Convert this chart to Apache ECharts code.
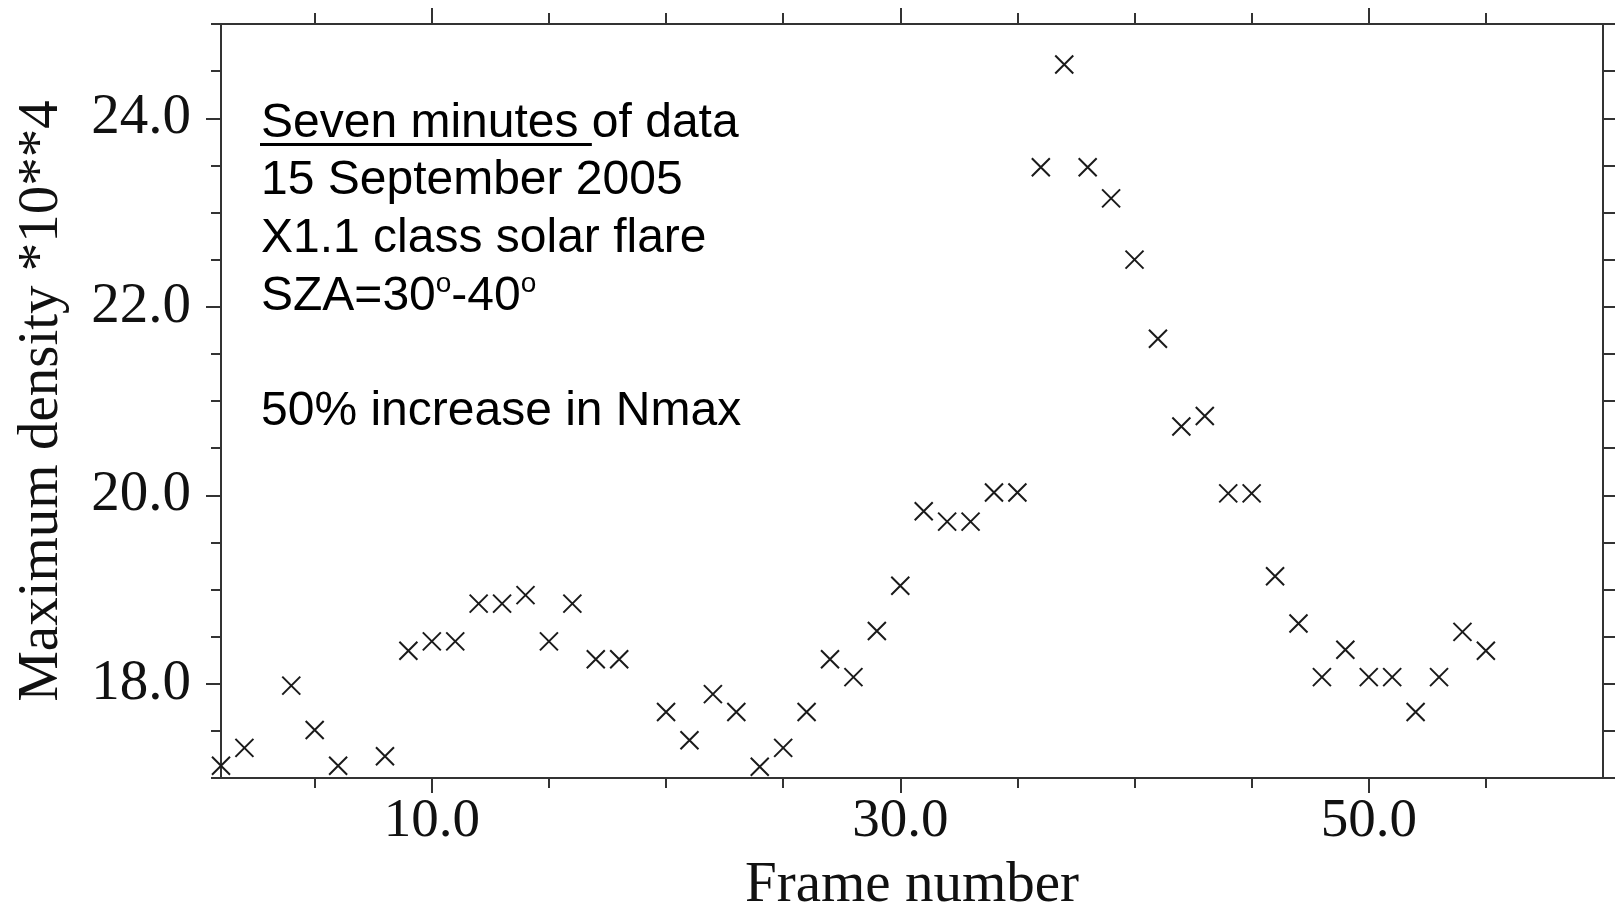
<!DOCTYPE html>
<html><head><meta charset="utf-8">
<script src="https://cdn.jsdelivr.net/npm/echarts@6/dist/echarts.min.js"></script>
<style>html,body{margin:0;padding:0;background:#fff}#c{width:1616px;height:909px}</style>
</head><body><div id="c"></div>
<script>
// ---- data ----
const frames = [1,2,4,5,6,8,9,10,11,12,13,14,15,16,17,18,20,21,22,23,24,25,26,27,28,29,30,31,32,33,34,35,36,37,38,39,40,41,42,43,44,45,46,47,48,49,50,51,52,53,54,55];
const density = [17.13,17.32,17.98,17.51,17.13,17.23,18.35,18.45,18.45,18.85,18.85,18.94,18.45,18.85,18.26,18.26,17.70,17.40,17.89,17.70,17.12,17.32,17.70,18.26,18.07,18.56,19.04,19.83,19.72,19.72,20.03,20.03,23.48,24.57,23.48,23.15,22.50,21.66,20.73,20.84,20.02,20.02,19.14,18.64,18.07,18.36,18.07,18.07,17.70,18.07,18.55,18.35];
const xMinorTicks = [5,15,20,25,35,40,45,55];
const xMajorTicks = [10,30,50];
const yMajorTicks = [18,20,22,24];
const xTitle = 'Frame number';
const yTitle = 'Maximum density *10**4';
const noteLines = ['Seven minutes of data', '15 September 2005', 'X1.1 class solar flare', 'SZA=30', '-40', '50% increase in Nmax'];
const underlined = 'Seven minutes ';
const degree = 'o';

// ---- chart ----
const AX = '#333';
const SERIF = '"Liberation Serif", "Times New Roman", serif';
const SANS = '"Liberation Sans", Arial, sans-serif';
const fmt = v => Number(v).toFixed(1);
const lineStyle = {color: AX, width: 2};
const tickStyle = {color: AX, width: 2};

function xAxis(pos, ticks, len, showLine, labels) {
  return {
    type: 'value', min: 1, max: 60, position: pos,
    axisLine: {show: showLine, onZero: false, lineStyle},
    axisTick: {show: true, inside: false, length: len, customValues: ticks, lineStyle: tickStyle},
    axisLabel: labels ? {show: true, customValues: labels, formatter: fmt, margin: 16,
      fontFamily: SERIF, fontSize: 55, color: '#111'} : {show: false},
    splitLine: {show: false}
  };
}
function yAxis(pos, len, showLine, ticks, labels) {
  const a = {
    type: 'value', min: 17, max: 25, interval: 0.5, position: pos,
    axisLine: {show: showLine, onZero: false, lineStyle},
    axisTick: {show: true, inside: false, length: len, lineStyle: tickStyle},
    axisLabel: labels ? {show: true, customValues: labels, formatter: fmt, margin: 30,
      fontFamily: SERIF, fontSize: 57, color: '#111'} : {show: false},
    splitLine: {show: false}
  };
  if (ticks) a.axisTick.customValues = ticks;
  return a;
}

const xs = [
  xAxis('bottom', xMinorTicks, 10, true, null),
  Object.assign(xAxis('bottom', xMajorTicks, 15, false, xMajorTicks), {
    name: xTitle, nameLocation: 'middle', nameGap: 80,
    nameTextStyle: {fontFamily: SERIF, fontSize: 57, color: '#111'}
  }),
  xAxis('top', xMinorTicks, 11, true, null),
  xAxis('top', xMajorTicks, 16, false, null)
];
const ys = [
  yAxis('left', 10, true, null, null),
  Object.assign(yAxis('left', 15, false, yMajorTicks, yMajorTicks), {
    name: yTitle, nameLocation: 'middle', nameGap: 150, nameRotate: 90,
    nameTextStyle: {fontFamily: SERIF, fontSize: 57, color: '#111'}
  }),
  yAxis('right', 12, true, null, null)
];

// measure annotation text for underline / superscripts
const ctx = document.createElement('canvas').getContext('2d');
ctx.font = '48px ' + SANS;
const wUnder = ctx.measureText(underlined).width;
const wSZA = ctx.measureText(noteLines[3]).width;
const wM40 = ctx.measureText(noteLines[4]).width;
ctx.font = '28px ' + SANS;
const wDeg = ctx.measureText(degree).width;

const x0 = 261, lh = 57.6, yc0 = 123.5;
function txt(t, x, y, size) {
  return {type: 'text', x: x, y: y, z: 100,
    style: {text: t, font: size + 'px ' + SANS, fill: '#000', textAlign: 'left', textVerticalAlign: 'middle'}};
}
const graphics = [
  txt(noteLines[0], x0, yc0, 48),
  {type: 'line', z: 100, shape: {x1: x0 - 1, y1: 144.5, x2: x0 + wUnder, y2: 144.5}, style: {stroke: '#000', lineWidth: 3}},
  txt(noteLines[1], x0, yc0 + lh, 48),
  txt(noteLines[2], x0, yc0 + 2 * lh, 48),
  txt(noteLines[3], x0, yc0 + 3 * lh, 48),
  txt(degree, x0 + wSZA, yc0 + 3 * lh - 12, 28),
  txt(noteLines[4], x0 + wSZA + wDeg, yc0 + 3 * lh, 48),
  txt(degree, x0 + wSZA + wDeg + wM40, yc0 + 3 * lh - 12, 28),
  txt(noteLines[5], x0, yc0 + 5 * lh, 48)
];

const chart = echarts.init(document.getElementById('c'), null, {renderer: 'canvas'});
chart.setOption({
  animation: false,
  backgroundColor: '#fff',
  grid: {left: 221, right: 13, top: 24, bottom: 131, containLabel: false, outerBoundsMode: 'none'},
  xAxis: xs,
  yAxis: ys,
  graphic: graphics,
  series: [{
    type: 'scatter', xAxisIndex: 0, yAxisIndex: 0, clip: false,
    data: frames.map((f, i) => [f, density[i]]),
    symbol: 'path://M0,0L10,10M10,0L0,10',
    symbolSize: 18,
    itemStyle: {color: 'none', borderColor: '#1a1a1a', borderWidth: 2, opacity: 1}
  }]
});
</script></body></html>
